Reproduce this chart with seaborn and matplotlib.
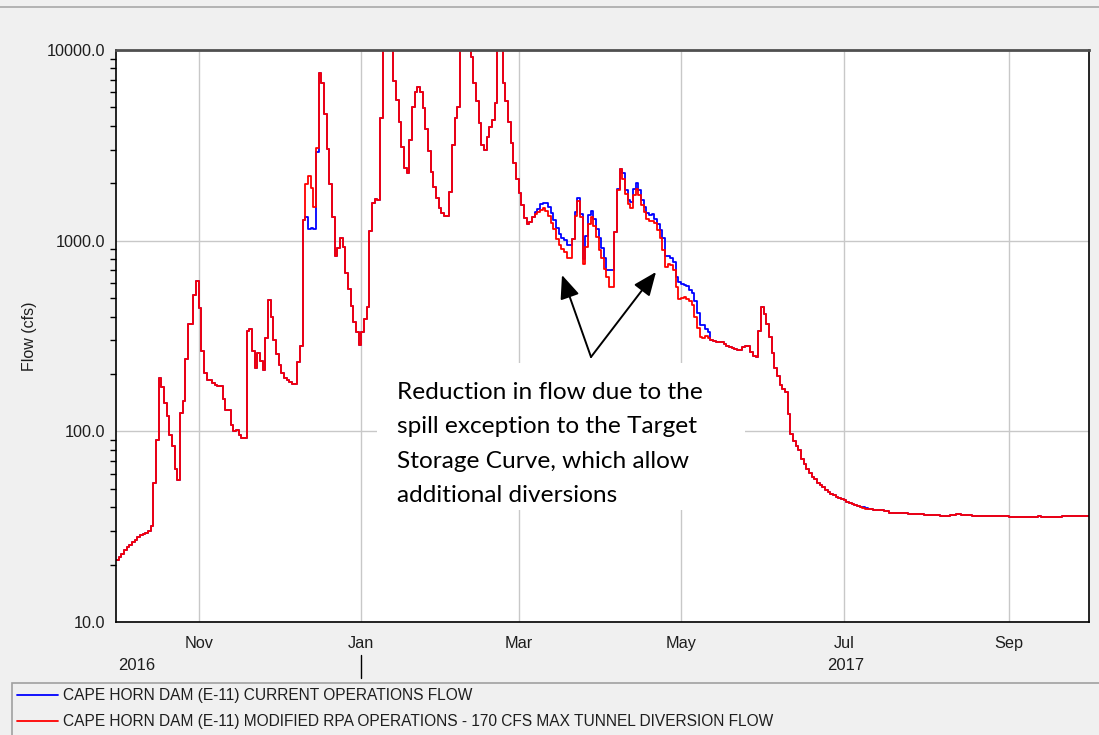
import numpy as np
import pandas as pd
import matplotlib
matplotlib.use("Agg")
import matplotlib.pyplot as plt
import matplotlib.dates as mdates
import matplotlib.ticker as mticker
from matplotlib.patches import Rectangle
from matplotlib.lines import Line2D
from matplotlib.transforms import blended_transform_factory
import seaborn as sns

# ---------------------------------------------------------------------------
# Daily flow (cfs) at Cape Horn Dam, water year Oct 1 2016 - Sep 30 2017
# ---------------------------------------------------------------------------
START = "2016-10-01"
END = "2017-10-01"

flow_oct = [21.2, 21.9, 22.8, 23.9, 24.7, 25.4, 26.2, 27.0, 27.9, 28.7,
            29.0, 29.3, 30.0, 32.0, 53.6, 89.7, 191, 171, 141, 121,
            95.7, 84, 63.4, 55.3, 125, 145, 239, 364, 365, 518, 612]
flow_nov = [443, 264, 203, 185, 185, 179, 174, 173, 173, 147,
            130, 130, 108, 100, 102, 95.5, 92, 92, 334, 344,
            264, 214, 259, 235, 209, 307, 489, 400, 301, 253]
flow_dec = [223, 203, 190, 185, 181, 177, 177, 232, 281, 1290,
            1972, 2193, 1900, 1507, 3046, 7550, 6745, 4617, 3027, 1972,
            1337, 834, 912, 1037, 922, 679, 558, 454, 376, 330, 284]
flow_jan = [330, 386, 451, 1125, 1570, 1648, 1640, 4384, 12500, 14800,
            13600, 11200, 6902, 5468, 4178, 3115, 2415, 2255, 3374, 5000,
            6040, 6370, 6000, 4945, 3837, 2953, 2301, 1919, 1667, 1479, 1391]
flow_feb = [1347, 1347, 1807, 3177, 4384, 5047, 11800, 13500, 12900, 10800,
            9230, 6680, 5418, 4122, 3177, 2993, 3486, 3963, 4295, 5248,
            11500, 10900, 6745, 5418, 4178, 3238, 2564, 2106]
flow_mar = [1786, 1538, 1310, 1222, 1256, 1337, 1374, 1414, 1454, 1480,
            1430, 1350, 1240, 1150, 1020, 950, 904, 872, 815, 815,
            1024, 1342, 1620, 1331, 757, 927, 1218, 1331, 1200, 1045, 890]
flow_apr = [815, 713, 645, 571, 571, 1110, 1837, 2389, 2113, 1762,
            1563, 1489, 1730, 1875, 1730, 1532, 1414, 1304, 1268, 1268,
            1238, 1133, 1037, 890, 728, 751, 743, 698, 571, 497]
flow_may = [499, 509, 495, 485, 460, 396, 347, 314, 308, 316,
            308, 301, 298, 295, 295, 293, 287, 281, 276, 272,
            269, 267, 267, 278, 281, 281, 262, 248, 246, 337, 451]
flow_jun = [412, 364, 311, 257, 214, 194, 175, 166, 160, 124,
            96.8, 89.3, 83.8, 79.8, 71.3, 67.4, 63.2, 60.7, 57.8, 56.0,
            53.8, 52.3, 50.9, 49.2, 47.9, 46.9, 46.3, 45.4, 44.9, 44.0]
flow_jul = [43.4, 42.8, 42.3, 41.6, 41.1, 40.4, 40.0, 39.6, 39.3, 39.0,
            39.0, 38.5, 38.5, 38.5, 38.5, 38.1, 38.1, 37.5, 37.5, 37.5,
            37.5, 37.5, 37.5, 37.5, 36.9, 36.9, 36.9, 36.9, 36.9, 36.9, 36.5]
flow_aug = [36.5, 36.5, 36.5, 36.5, 36.5, 36.0, 36.0, 36.0, 36.0, 36.5,
            36.5, 36.9, 36.9, 36.5, 36.5, 36.5, 36.5, 36.0, 36.0, 36.0,
            36.0, 36.0, 36.0, 36.0, 36.0, 36.0, 36.0, 36.0, 36.0, 36.0, 36.0]
flow_sep = [35.5, 35.5, 35.5, 35.5, 35.5, 35.5, 35.5, 35.5, 35.5, 35.5,
            35.5, 36.0, 35.5, 35.5, 35.5, 35.5, 35.5, 35.5, 35.5, 35.5,
            36.0, 36.0, 36.0, 36.0, 36.0, 36.0, 36.0, 36.0, 36.0, 36.0]

# Days (counted from Oct 1) on which current operations differ from the
# modified operations, and the current-operations flow on those days
current_days = [71, 72, 73, 74, 75,
                157, 158, 159, 160, 161, 162, 163, 164, 165, 166, 167, 168,
                169, 170, 171, 172, 173, 174, 175, 176, 177, 178, 179, 180,
                181, 182, 183, 184, 185, 186, 188, 190, 191, 192, 193, 194,
                195, 196, 197, 198, 199, 200, 201, 202, 203, 204, 205, 206,
                207, 208, 209, 210, 211, 212, 213, 214, 215, 216, 217, 218,
                219, 220, 221, 222, 280, 281, 285, 286]
current_vals = [1324, 1151, 1160, 1151, 2930,
                1414, 1472, 1564, 1580, 1580, 1500, 1400, 1280, 1160, 1080,
                1037, 1004, 945, 945, 1024, 1414, 1680, 1385, 805, 1054, 1358,
                1426, 1300, 1156, 1037, 919, 815, 705, 700, 700, 1870, 2263,
                1837, 1629, 1596, 1875, 2014, 1850, 1640, 1500, 1397, 1358,
                1374, 1304, 1227, 1133, 1037, 828, 828, 815, 773, 645, 607,
                593, 585, 575, 553, 530, 480, 419, 361, 361, 345, 330,
                39.9, 39.6, 38.8, 38.8]

SERIES_CUR = "CAPE HORN DAM (E-11) CURRENT OPERATIONS FLOW"
SERIES_MOD = "CAPE HORN DAM (E-11) MODIFIED RPA OPERATIONS - 170 CFS MAX TUNNEL DIVERSION FLOW"
month_ticks = ["Nov", "Jan", "Mar", "May", "Jul", "Sep"]
y_ticks = [10, 100, 1000, 10000]
y_tick_labels = ["10.0", "100.0", "1000.0", "10000.0"]
note = ("Reduction in flow due to the\nspill exception to the Target\n"
        "Storage Curve, which allow\nadditional diversions")

# ---------------------------------------------------------------------------
modified = np.array(flow_oct + flow_nov + flow_dec + flow_jan + flow_feb +
                    flow_mar + flow_apr + flow_may + flow_jun + flow_jul +
                    flow_aug + flow_sep, dtype=float)
current = modified.copy()
current[current_days] = current_vals

dates = pd.date_range(START, periods=len(modified), freq="D")
# repeat the final day so the last step reaches the end of the water year
dates_ext = dates.append(pd.DatetimeIndex([pd.Timestamp(END)]))
cur_ext = np.append(current, current[-1])
mod_ext = np.append(modified, modified[-1])

df = pd.concat([
    pd.DataFrame({"date": dates_ext, "flow": cur_ext, "series": SERIES_CUR}),
    pd.DataFrame({"date": dates_ext, "flow": mod_ext, "series": SERIES_MOD}),
], ignore_index=True)

sns.set_theme(style="white")
plt.rcParams["font.family"] = ["Liberation Sans", "DejaVu Sans"]

W, H = 1099, 735
TXT = "#1e1e1e"
fig = plt.figure(figsize=(W / 100, H / 100), dpi=100, facecolor="#f0f0f0")
ax = fig.add_axes([116 / W, (H - 622) / H, 973 / W, 572 / H])
ax.set_facecolor("white")

sns.lineplot(data=df, x="date", y="flow", hue="series",
             hue_order=[SERIES_CUR, SERIES_MOD],
             palette=["#0000ff", "#ff0000"], estimator=None,
             drawstyle="steps-post", linewidth=1.3, legend=False, ax=ax)

ax.set_yscale("log")
ax.set_ylim(10, 10000)
ax.set_xlim(pd.Timestamp(START), pd.Timestamp(END))

ax.yaxis.set_major_locator(mticker.FixedLocator(y_ticks))
ax.yaxis.set_major_formatter(mticker.FixedFormatter(y_tick_labels))
ax.yaxis.set_minor_locator(mticker.LogLocator(base=10, subs=np.arange(2, 10)))
ax.yaxis.set_minor_formatter(mticker.NullFormatter())

ax.xaxis.set_major_locator(mdates.MonthLocator(bymonth=[11, 1, 3, 5, 7, 9]))
ax.xaxis.set_major_formatter(mdates.DateFormatter("%b"))

ax.tick_params(axis="both", which="major", direction="out", length=6,
               width=1, color="black", labelsize=11.7, labelcolor=TXT)
ax.tick_params(axis="y", which="minor", direction="out", length=4,
               width=1, color="black", left=True)
ax.tick_params(axis="x", which="major", pad=4)
ax.tick_params(axis="y", which="major", pad=2)

ax.grid(True, which="major", axis="both", color="#c8c8c8", linewidth=1)
ax.set_axisbelow(True)

for side in ["left", "right", "bottom"]:
    ax.spines[side].set_color("black")
    ax.spines[side].set_linewidth(1.2)
ax.spines["top"].set_color("#505050")
ax.spines["top"].set_linewidth(2)

ax.set_xlabel("")
ax.set_ylabel("Flow (cfs)", fontsize=11.5, color=TXT)
ax.yaxis.set_label_coords((37 - 116) / 973, 0.5)

# white panel behind the note hides the grid
ax.add_patch(Rectangle(((377 - 116) / 973, (622 - 510) / 572),
                       (745 - 377) / 973, (510 - 363) / 572,
                       transform=ax.transAxes, facecolor="white",
                       edgecolor="none", zorder=1.5))
ax.text((397 - 116) / 973, (622 - 444) / 572, note, transform=ax.transAxes,
        ha="left", va="center", fontsize=17.6, family="Lato",
        linespacing=1.77, color="black", zorder=3)

start = ((591 - 116) / 973, (622 - 357) / 572)
for tip in [((562 - 116) / 973, (622 - 275) / 572),
            ((656 - 116) / 973, (622 - 272) / 572)]:
    ax.annotate("", xy=tip, xycoords="axes fraction", xytext=start,
                textcoords="axes fraction",
                arrowprops=dict(arrowstyle="-|>,head_length=1.2,head_width=0.5",
                                color="black", lw=1.4, shrinkA=0, shrinkB=0),
                zorder=3)

# year row beneath the month labels
fig.text(118 / W, (H - 665) / H, "2016", ha="left", va="center",
         fontsize=12, color=TXT)
fig.text(827 / W, (H - 665) / H, "2017", ha="left", va="center",
         fontsize=12, color=TXT)
sep_tr = blended_transform_factory(ax.transData, fig.transFigure)
jan1 = mdates.date2num(pd.Timestamp("2017-01-01"))
fig.add_artist(Line2D([jan1, jan1], [(H - 655) / H, (H - 678) / H],
                      transform=sep_tr, color="black", lw=1))

# top border of the window
fig.add_artist(Line2D([0, 1], [(H - 7) / H, (H - 7) / H],
                      transform=fig.transFigure, color="#a8a8a8", lw=1.2))

# legend panel
fig.add_artist(Rectangle((12 / W, -0.01), 1.0, (H - 683) / H + 0.01,
                         transform=fig.transFigure, facecolor="none",
                         edgecolor="#a0a0a0", lw=1.2))
handles = [Line2D([], [], color="#0000ff", lw=1.3),
           Line2D([], [], color="#ff0000", lw=1.3)]
fig.legend(handles, [SERIES_CUR, SERIES_MOD], loc="upper left",
           bbox_to_anchor=(14 / W, (H - 685) / H), frameon=False,
           fontsize=11.2, handlelength=2.6, handletextpad=0.35,
           labelspacing=0.72, borderpad=0.2, borderaxespad=0,
           labelcolor=TXT)

fig.savefig("out.png", dpi=100, facecolor=fig.get_facecolor())
